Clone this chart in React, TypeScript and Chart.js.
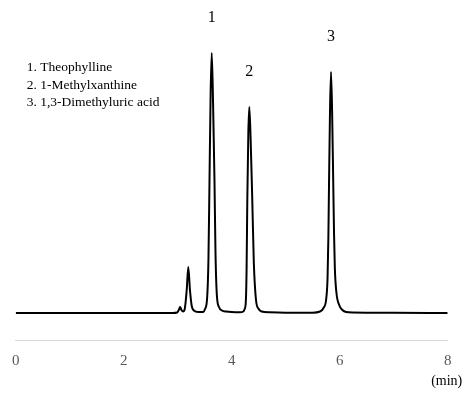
import React, { useEffect, useRef } from 'react';
import { Chart, registerables } from 'chart.js';

Chart.register(...registerables);

// Chromatogram trace: retention time (min) and detector signal (arbitrary units)
const times = [
  0, 2.9, 2.99, 3.02, 3.045, 3.07, 3.1, 3.13, 3.167, 3.196, 3.227, 3.26, 3.3, 3.38,
  3.469, 3.506, 3.545, 3.57, 3.589, 3.61, 3.63, 3.655, 3.681, 3.7, 3.725, 3.765, 3.82, 3.9,
  4.0, 4.15, 4.215, 4.24, 4.262, 4.276, 4.289, 4.308, 4.326, 4.35, 4.381, 4.41, 4.45, 4.5, 4.556, 4.7,
  5.0, 5.5, 5.635, 5.7, 5.75, 5.775, 5.79, 5.802, 5.82, 5.839, 5.86, 5.881, 5.895, 5.91, 5.94, 5.99, 6.05, 6.12, 6.25,
  7.0, 8.0,
];
const signal = [
  0, 0, 0.5, 3, 6, 3, 1.5, 4, 23, 46, 23, 7, 2.5, 1,
  1, 4, 15, 55, 133, 220, 260, 210, 133, 60, 18, 6, 2.5, 1.5,
  1, 0.8, 1.5, 4, 12, 45, 113, 180, 206, 175, 113, 50, 13, 4, 1.5, 0.7,
  0.3, 0.3, 1.5, 5, 14, 35, 75, 128, 200, 241, 200, 128, 80, 45, 20, 8, 3, 1, 0.5,
  0.2, 0,
];

const peakLabels = ['1', '2', '3'];
const peakTimes = [3.63, 4.326, 5.839];
const peakHeights = [260, 206, 241];
const compoundNames = ['1. Theophylline', '2. 1-Methylxanthine', '3. 1,3-Dimethyluric acid'];
const xTicks = [0, 2, 4, 6, 8];
const xUnit = '(min)';

const FAMILY = "'Times New Roman', 'Liberation Serif', serif";

const annotations = {
  id: 'annotations',
  afterDraw(chart: any) {
    const { ctx, chartArea, scales } = chart;
    const x = scales.x;
    const y = scales.y;
    ctx.save();
    ctx.fillStyle = '#000';
    ctx.font = `16px ${FAMILY}`;
    ctx.textAlign = 'center';
    ctx.textBaseline = 'alphabetic';
    peakLabels.forEach((l, i) => {
      ctx.fillText(l, x.getPixelForValue(peakTimes[i]), y.getPixelForValue(peakHeights[i]) - 31);
    });
    ctx.textAlign = 'left';
    ctx.font = `13.5px ${FAMILY}`;
    compoundNames.forEach((n, i) => {
      ctx.fillText(n, chartArea.left + 11, chartArea.top + 61 + i * 17.5);
    });
    ctx.textAlign = 'center';
    ctx.textBaseline = 'middle';
    ctx.font = `14px ${FAMILY}`;
    ctx.fillText(xUnit, x.getPixelForValue(xTicks[xTicks.length - 1]) - 1, x.bottom - 16.3);
    ctx.restore();
  },
};

export default function App() {
  const ref = useRef<HTMLCanvasElement | null>(null);
  useEffect(() => {
    if (!ref.current) return;
    const points = times.map((t, i) => ({ x: t, y: signal[i] }));
    const chart = new Chart(ref.current, {
      type: 'line',
      data: {
        datasets: [
          {
            data: points,
            borderColor: '#000',
            borderWidth: 2,
            pointRadius: 0,
            cubicInterpolationMode: 'monotone',
            fill: false,
          },
        ],
      },
      options: {
        animation: false,
        responsive: false,
        layout: { padding: { left: 15.7, right: 28.3, top: 10, bottom: 0 } },
        plugins: { legend: { display: false }, tooltip: { enabled: false } },
        scales: {
          x: {
            type: 'linear',
            min: 0,
            max: 8,
            afterBuildTicks: (s: any) => {
              s.ticks = xTicks.map((v) => ({ value: v }));
            },
            afterFit: (s: any) => {
              s.height = 57.5;
            },
            grid: { display: false },
            border: { display: true, color: '#d9d9d9', width: 1 },
            ticks: {
              font: { family: FAMILY, size: 15 },
              color: '#595959',
              padding: 4,
            },
          },
          y: { display: false, min: -27.5, max: 303 },
        },
      },
      plugins: [annotations],
    } as any);
    return () => chart.destroy();
  }, []);
  return (
    <div style={{ position: 'fixed', left: 0, top: 0, width: 476, height: 398, background: '#fff' }}>
      <canvas ref={ref} width={476} height={398} />
    </div>
  );
}
